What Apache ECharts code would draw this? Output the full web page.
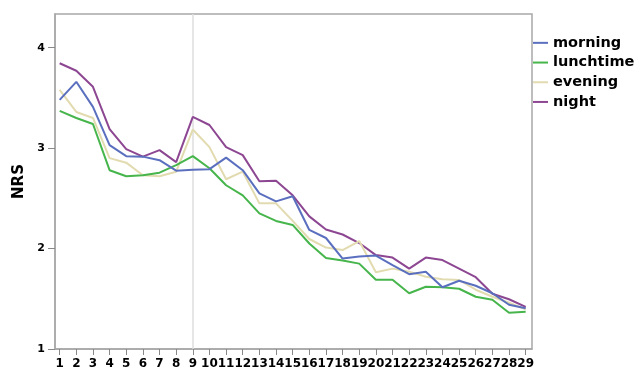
<!DOCTYPE html>
<html><head><meta charset="utf-8">
<script src="https://cdn.jsdelivr.net/npm/echarts@6/dist/echarts.min.js"></script>
<style>html,body{margin:0;padding:0;background:#fff}#c{width:644px;height:373px}</style>
</head><body><div id="c"></div>
<script>
const categories = [1,2,3,4,5,6,7,8,9,10,11,12,13,14,15,16,17,18,19,20,21,22,23,24,25,26,27,28,29];
const morning   = [3.48,3.66,3.41,3.03,2.92,2.915,2.88,2.775,2.785,2.79,2.905,2.78,2.55,2.47,2.52,2.185,2.105,1.90,1.92,1.93,1.835,1.745,1.77,1.615,1.68,1.63,1.555,1.44,1.405];
const lunchtime = [3.37,3.30,3.24,2.78,2.72,2.73,2.755,2.83,2.92,2.80,2.63,2.53,2.35,2.275,2.235,2.05,1.905,1.88,1.85,1.69,1.69,1.555,1.62,1.615,1.60,1.52,1.49,1.36,1.37];
const evening   = [3.58,3.36,3.30,2.90,2.855,2.73,2.72,2.765,3.185,3.01,2.69,2.765,2.45,2.45,2.275,2.095,2.01,1.985,2.075,1.765,1.80,1.77,1.72,1.695,1.687,1.59,1.52,1.46,1.395];
const night     = [3.845,3.77,3.61,3.19,2.99,2.915,2.98,2.86,3.31,3.23,3.01,2.93,2.67,2.675,2.53,2.32,2.19,2.14,2.055,1.935,1.91,1.80,1.91,1.885,1.80,1.715,1.55,1.495,1.42];
const yTicks = [1,2,3,4];
const refLine = 9;

const names = ['morning','lunchtime','evening','night'];
const values = [morning, lunchtime, evening, night];
const colors = ['#5b6fbf','#46b54b','#e2dbb0','#8d4792'];

const chart = echarts.init(document.getElementById('c'));
chart.setOption({
  animation:false,
  grid:{left:55, top:14, right:112, bottom:24, show:true, borderColor:'#a8a8a8', borderWidth:1.5, backgroundColor:'#fff'},
  legend:{
    orient:'vertical', left:533, top:33, padding:0, itemGap:0, itemWidth:15, itemHeight:2, icon:'rect',
    textStyle:{color:'#000', fontWeight:'bold', fontSize:14.5, fontFamily:'DejaVu Sans', lineHeight:19.7},
    data:names
  },
  xAxis:{
    type:'value', min:0.72, max:29.38,
    axisLine:{show:true, onZero:false, lineStyle:{color:'#a8a8a8', width:1.5}},
    axisTick:{show:true, length:6, customValues:categories, lineStyle:{color:'#888', width:1}},
    axisLabel:{customValues:categories, margin:9, color:'#000', fontWeight:'bold', fontSize:12, fontFamily:'DejaVu Sans'},
    splitLine:{show:false}
  },
  yAxis:{
    type:'value', min:1, max:4.335,
    name:'NRS', nameLocation:'middle', nameGap:22,
    nameTextStyle:{color:'#000', fontWeight:'bold', fontSize:15, fontFamily:'DejaVu Sans'},
    axisLine:{show:true, lineStyle:{color:'#a8a8a8', width:1.5}},
    axisTick:{show:true, length:7, customValues:yTicks, lineStyle:{color:'#888', width:1}},
    axisLabel:{customValues:yTicks, margin:10, color:'#000', fontWeight:'bold', fontSize:11, fontFamily:'DejaVu Sans'},
    splitLine:{show:false}
  },
  series: names.map((n,k)=>({
    name:n, type:'line', symbol:'none', z: 10-k,
    data: categories.map((c,i)=>[c, values[k][i]]),
    lineStyle:{color:colors[k], width:2},
    itemStyle:{color:colors[k]},
    markLine: k===0 ? {silent:true, symbol:'none', label:{show:false},
      lineStyle:{color:'#dedede', width:1.5, type:'solid'}, data:[{xAxis:refLine}]} : undefined
  }))
});
</script></body></html>
